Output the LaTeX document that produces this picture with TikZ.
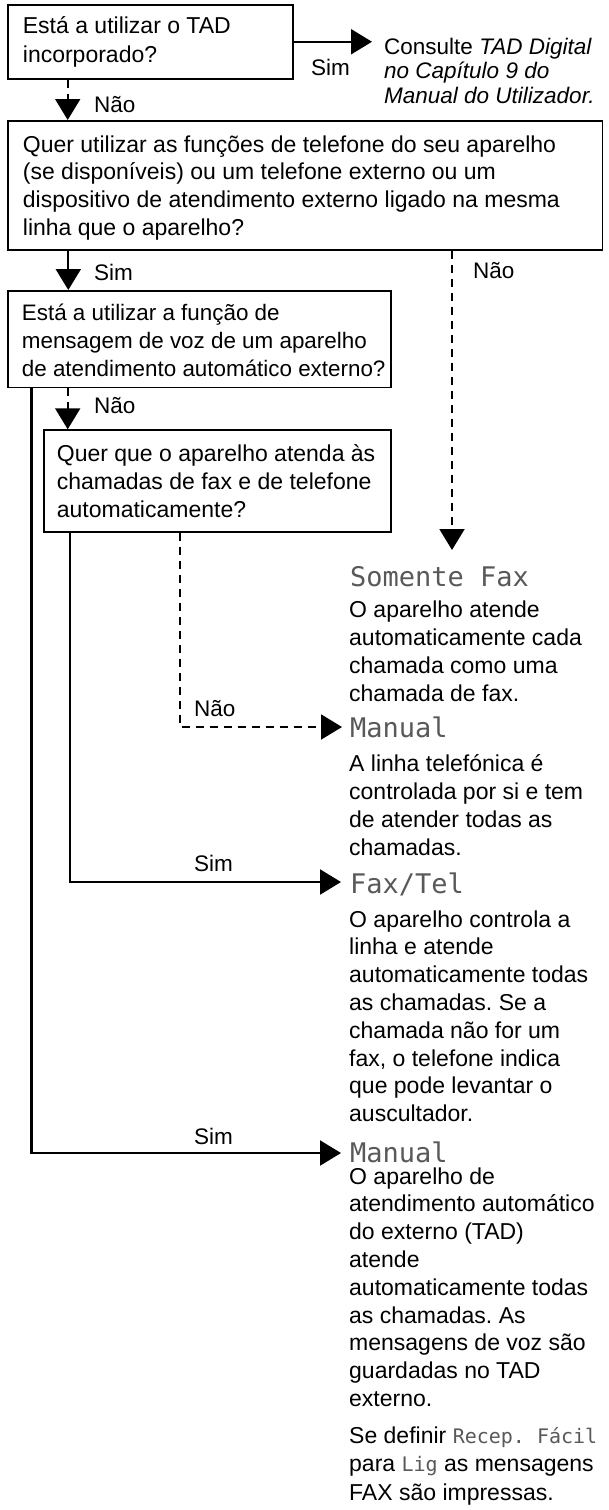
\documentclass[tikz,border=0pt]{standalone}
\usepackage{fontspec}
\setmainfont{Liberation Sans}
\newfontfamily\lcdfont{DejaVu Sans Mono}
\usetikzlibrary{arrows.meta}
\frenchspacing
\newcommand\txtlines[1]{\vtop{\halign{##\hfil\cr#1\crcr}}}
\newcommand\lcdsmall[1]{{\lcdfont\fontsize{20}{28}\selectfont\color{black!65}#1}}
\tikzset{
  qbox/.style={draw, line width=1.5pt, inner sep=0pt, anchor=north west, rectangle},
  txt/.style={inner sep=0pt, anchor=base west, font=\fontsize{23}{28}\selectfont},
  lbl/.style={inner sep=0pt, anchor=base west, font=\fontsize{22.5}{27}\selectfont},
  lcd/.style={inner sep=0pt, anchor=base west, text=black!65, font=\lcdfont\fontsize{27}{30}\selectfont},
  yes/.style={line width=2.2pt, line join=miter, -{Triangle[length=21pt,width=25pt]}},
  no/.style={line width=2pt, line join=miter, dash pattern=on 8pt off 6pt, -{Triangle[length=21pt,width=25pt]}},
}
\begin{document}
\begin{tikzpicture}[x=1pt,y=-1pt]
\fill[white] (0,0) rectangle (608,1510);
\useasboundingbox (0,0) rectangle (608,1510);

% question boxes
\node[qbox, minimum width=285pt, minimum height=74pt] (b1) at (7,4) {};
\node[txt, font=\fontsize{23}{29.5}\selectfont] (t1) at (22.7,33) {\txtlines{Está a utilizar o TAD\cr incorporado?}};

\node[txt, font=\fontsize{22.5}{24.8}\selectfont] (cons) at (384,54) {\txtlines{Consulte \textit{TAD Digital}\cr \textit{no Capítulo 9 do}\cr \textit{Manual do Utilizador.}}};

\node[qbox, minimum width=594.7pt, minimum height=129pt] (b2) at (7,120) {};
\node[txt, font=\fontsize{23}{27.7}\selectfont] (t2) at (22.7,152) {\txtlines{Quer utilizar as funções de telefone do seu aparelho\cr (se disponíveis) ou um telefone externo ou um\cr dispositivo de atendimento externo ligado na mesma\cr linha que o aparelho?}};

\node[qbox, minimum width=383pt, minimum height=96.7pt] (b3) at (7,290) {};
\node[txt, font=\fontsize{22.4}{28}\selectfont] (t3) at (21.7,320.7) {\txtlines{Está a utilizar a função de\cr mensagem de voz de um aparelho\cr de atendimento automático externo?}};

\node[qbox, minimum width=346.7pt, minimum height=101.7pt] (b4) at (43.3,429.3) {};
\node[txt] (t4) at (56.7,461.7) {\txtlines{Quer que o aparelho atenda às\cr chamadas de fax e de telefone\cr automaticamente?}};

% outcomes
\node[lcd] (o1) at (350,586) {Somente Fax};
\node[txt, font=\fontsize{23}{28.3}\selectfont] (d1) at (349,617) {\txtlines{O aparelho atende\cr automaticamente cada\cr chamada como uma\cr chamada de fax.}};

\node[lcd] (o2) at (350,737) {Manual};
\node[txt, font=\fontsize{23}{28.3}\selectfont] (d2) at (349,771) {\txtlines{A linha telefónica é\cr controlada por si e tem\cr de atender todas as\cr chamadas.}};

\node[lcd] (o3) at (350,893) {Fax/Tel};
\node[txt, font=\fontsize{23}{27.8}\selectfont] (d3) at (349,927) {\txtlines{O aparelho controla a\cr linha e atende\cr automaticamente todas\cr as chamadas. Se a\cr chamada não for um\cr fax, o telefone indica\cr que pode levantar o\cr auscultador.}};

\node[lcd] (o4) at (350,1162) {Manual};
\node[txt, font=\fontsize{23}{27.8}\selectfont] (d4) at (349,1184) {\txtlines{O aparelho de\cr atendimento automático\cr do externo (TAD)\cr atende\cr automaticamente todas\cr as chamadas. As\cr mensagens de voz são\cr guardadas no TAD\cr externo.}};
\node[txt, font=\fontsize{23}{28.5}\selectfont] (d5) at (349,1443) {\txtlines{Se definir \lcdsmall{Recep. Fácil}\cr para \lcdsmall{Lig} as mensagens\cr FAX são impressas.}};

% connectors
\draw[yes, shorten >=12pt] (b1.east) -- (b1.east -| cons.base west);
\node[lbl] (l1) at (311,75) {Sim};

\draw[no] ([xshift=60.7pt]b1.south west) -- ([xshift=60.7pt]b2.north west);
\node[lbl] (l2) at (94,112) {Não};

\draw[yes] ([xshift=61.3pt]b2.south west) -- ([xshift=61.3pt]b3.north west);
\node[lbl] (l3) at (94,280) {Sim};

\coordinate (sfend) at (452,550);
\draw[no] ([xshift=445pt]b2.south west) -- (sfend);
\node[lbl] (l4) at (473,278) {Não};

\draw[no] ([xshift=60.7pt]b3.south west) -- ([xshift=24.4pt]b4.north west);
\node[lbl] (l5) at (94,413) {Não};

\draw[no] ([xshift=136.7pt]b4.south west) |- ([xshift=-8pt,yshift=10pt]o2.base west);
\node[lbl] (l6) at (194,716) {Não};

\draw[yes] ([xshift=26.7pt]b4.south west) |- ([xshift=-9pt,yshift=11pt]o3.base west);
\node[lbl] (l7) at (194,871) {Sim};

\draw[yes] ([xshift=24.5pt]b3.south west) |- ([xshift=-9pt,yshift=9pt]o4.base west);
\node[lbl] (l8) at (194,1144) {Sim};
\end{tikzpicture}
\end{document}
